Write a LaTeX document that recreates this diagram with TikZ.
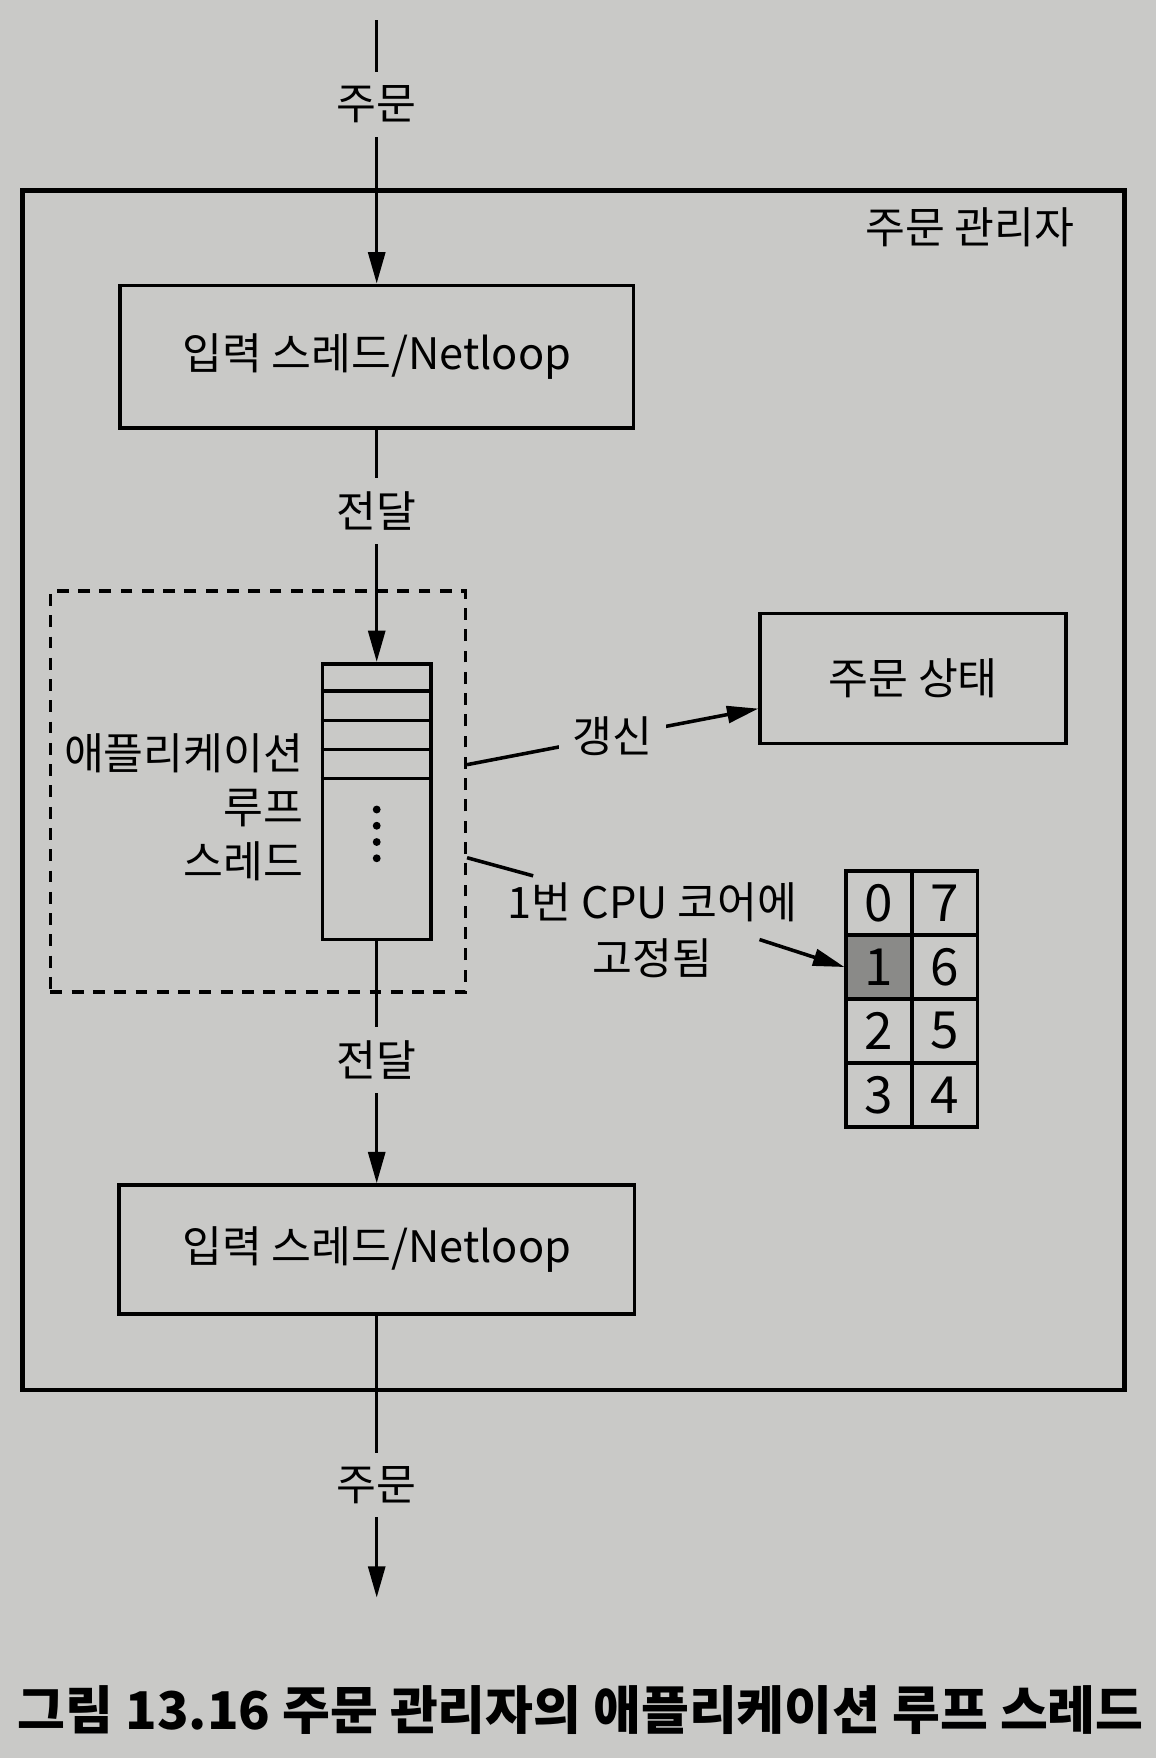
\documentclass[tikz,border=0pt]{standalone}
\usepackage{fontspec}
\setmainfont{Noto Sans CJK KR}
\usepackage{tikz}
\usetikzlibrary{arrows.meta,positioning,calc}
\definecolor{pagegray}{RGB}{201,201,199}
\definecolor{coregray}{RGB}{138,138,136}

\begin{document}
\begin{tikzpicture}[
 x=0.1mm,y=-0.1mm,
 font=\fontsize{11}{13.6}\selectfont,
 box/.style={draw,line width=0.9pt,inner sep=0pt},
 arr/.style={-{Triangle[length=2.8mm,width=1.5mm]},line width=0.9pt},
 lbl/.style={fill=pagegray,inner sep=1.2mm},
 cell/.style={draw,line width=0.9pt,minimum width=5.85mm,minimum height=5.7mm,inner sep=0pt,font=\fontsize{13}{13}\selectfont}
]
\fill[pagegray] (0,0) rectangle (1031,1568);
\useasboundingbox (0,0) rectangle (1031,1568);
\node[box,line width=1.1pt,minimum width=98.3mm,minimum height=107mm] (mgr) at (511.5,705) {};
\node (mgrlbl) at (865,203) {주문 관리자};
\node[box,minimum width=45.8mm,minimum height=12.7mm] (inA) at (336,318) {입력 스레드/Netloop};
\node[box,dash pattern=on 3pt off 2.4pt,minimum width=37mm,minimum height=35.8mm] (dq) at (230,706) {};
\node[box,minimum width=9.7mm,minimum height=24.6mm] (q) at (336,715) {};
\foreach \k in {1,...,4}
  \draw[line width=0.9pt] ($(q.north west)+(0,26*\k)$) -- ($(q.north east)+(0,26*\k)$);
\foreach \k in {0,...,3}
  \fill ($(q.center)+(0,7+14.5*\k)$) circle (1pt);
\node[align=right,anchor=east] (applbl) at (283,720) {애플리케이션\\루프\\스레드};
\node[box,minimum width=27.3mm,minimum height=11.6mm] (st) at (814.5,605) {주문 상태};
\node[align=center,font=\fontsize{11}{14.2}\selectfont] (pin) at (582,830) {1번 CPU 코어에\\고정됨};
\foreach \r/\f in {0/pagegray,1/coregray,2/pagegray,3/pagegray}{
  \pgfmathtruncatemacro\m{7-\r}
  \node[cell,fill=\f] (c\r) at (784,805.5+57*\r) {\r};
  \node[cell] (c\m) at (842.5,805.5+57*\r) {\m};
}
\coordinate (src) at (336,18);
\coordinate (sink) at (336,1425);
\node[box,minimum width=46mm,minimum height=11.5mm] (inB) at (336,1114.5) {입력 스레드/Netloop};
\draw[arr] (src) -- node[lbl,pos=.32] {주문} (inA);
\draw[arr] (inA) -- node[lbl,pos=.35] {전달} (q);
\draw[arr] ([yshift=2.4mm]dq.east) -- node[lbl] {갱신} ([yshift=-2.7mm]st.west);
\draw[line width=0.9pt] ([yshift=-5.9mm]dq.east) -- ([xshift=3.5mm,yshift=-0.6mm]pin.north west);
\draw[arr] ([xshift=-4.6mm,yshift=-0.8mm]pin.east) -- (c1.west);
\draw[arr] (q) -- node[lbl,pos=.49] {전달} (inB);
\draw[arr] (inB) -- node[lbl,pos=.6] {주문} (sink);
\node[font=\bfseries\fontsize{13.2}{15}\selectfont] (cap) at (518,1525) {그림 13.16 주문 관리자의 애플리케이션 루프 스레드};
\end{tikzpicture}
\end{document}
